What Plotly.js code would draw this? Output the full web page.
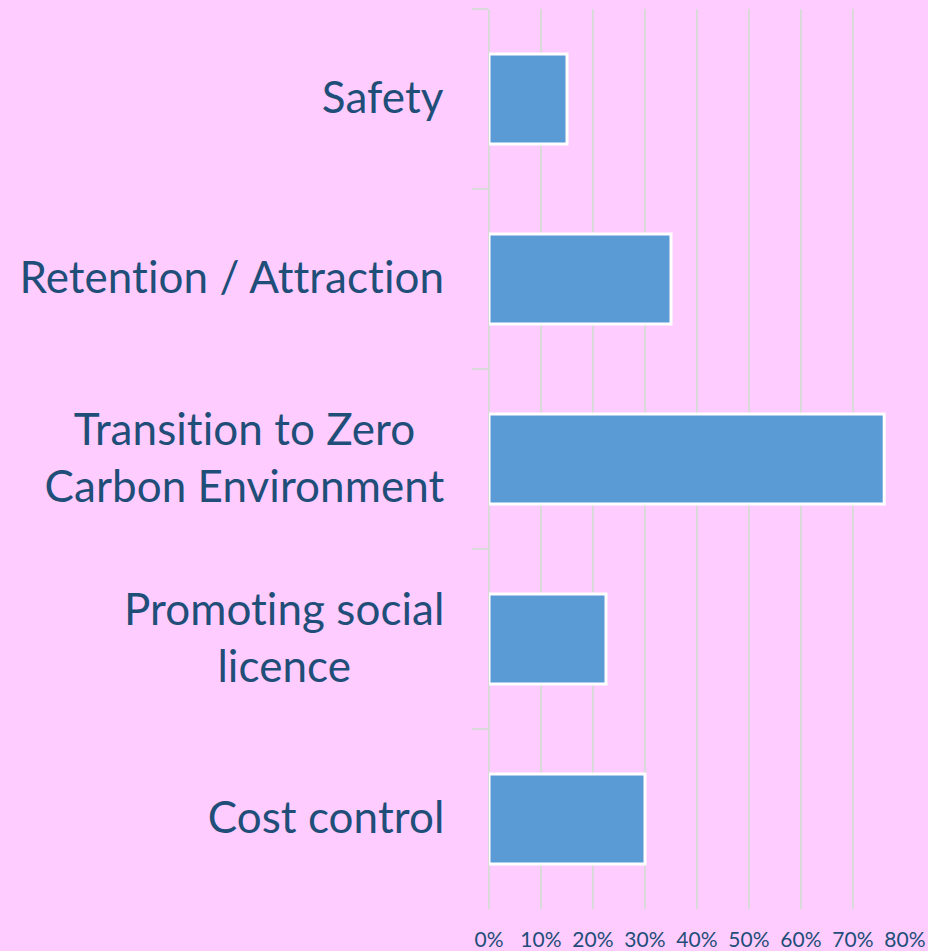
<!DOCTYPE html>
<html>
<head>
<meta charset="utf-8">
<script src="https://cdn.plot.ly/plotly-3.0.1.min.js"></script>
<style>
html,body{margin:0;padding:0;background:#FFCCFF;}
#chart{width:928px;height:951px;}
.main-svg text{font-variant-ligatures:none !important;font-feature-settings:"liga" 0,"clig" 0 !important;letter-spacing:0.05px;}
</style>
</head>
<body>
<div id="chart"></div>
<script>
var categories = ["Safety", "Retention / Attraction", "Transition to Zero Carbon Environment", "Promoting social licence", "Cost control"];
var labelTexts = ["Safety", "Retention / Attraction", "Transition to Zero<br>Carbon Environment", "Promoting social<br>licence", "Cost control"];
var values = [0.15, 0.35, 0.76, 0.225, 0.30];
var tickVals = [0, 0.1, 0.2, 0.3, 0.4, 0.5, 0.6, 0.7, 0.8];
var tickText = ["0%", "10%", "20%", "30%", "40%", "50%", "60%", "70%", "80%"];

var textColor = "#1F4E79";
var trace = {
  type: "bar",
  orientation: "h",
  y: categories,
  x: values,
  marker: {color: "#5B9BD5", line: {color: "#FFFFFF", width: 3}},
  hoverinfo: "none"
};

var annotations = categories.map(function(c, i) {
  return {
    xref: "paper", yref: "y", x: -0.11, y: c,
    xshift: 3, yshift: 3,
    text: labelTexts[i], showarrow: false,
    xanchor: "right", yanchor: "middle", align: "center",
    font: {family: "Lato, 'Open Sans', sans-serif", size: 44, color: textColor}
  };
});

var layout = {
  width: 928, height: 951,
  margin: {l: 489, r: 23, t: 9, b: 42},
  paper_bgcolor: "#FFCCFF",
  plot_bgcolor: "#FFCCFF",
  bargap: 0.5,
  showlegend: false,
  xaxis: {
    range: [0, 0.8],
    tickvals: tickVals, ticktext: tickText,
    showgrid: true, gridcolor: "#D9D9D9", gridwidth: 1.5,
    zeroline: true, zerolinecolor: "#D9D9D9", zerolinewidth: 1.5,
    showline: false, ticks: "",
    ticklabelstandoff: 16,
    tickfont: {family: "Lato, 'Open Sans', sans-serif", size: 21, color: textColor},
    fixedrange: true
  },
  yaxis: {
    type: "category",
    autorange: "reversed",
    showticklabels: false,
    ticks: "outside", tickson: "boundaries", ticklen: 16,
    tickcolor: "#D9D9D9", tickwidth: 1.5,
    showgrid: false, showline: true, linecolor: "#D9D9D9", linewidth: 1.5,
    zeroline: false, fixedrange: true
  },
  annotations: annotations
};

Plotly.newPlot("chart", [trace], layout, {displayModeBar: false, staticPlot: true});
</script>
</body>
</html>
